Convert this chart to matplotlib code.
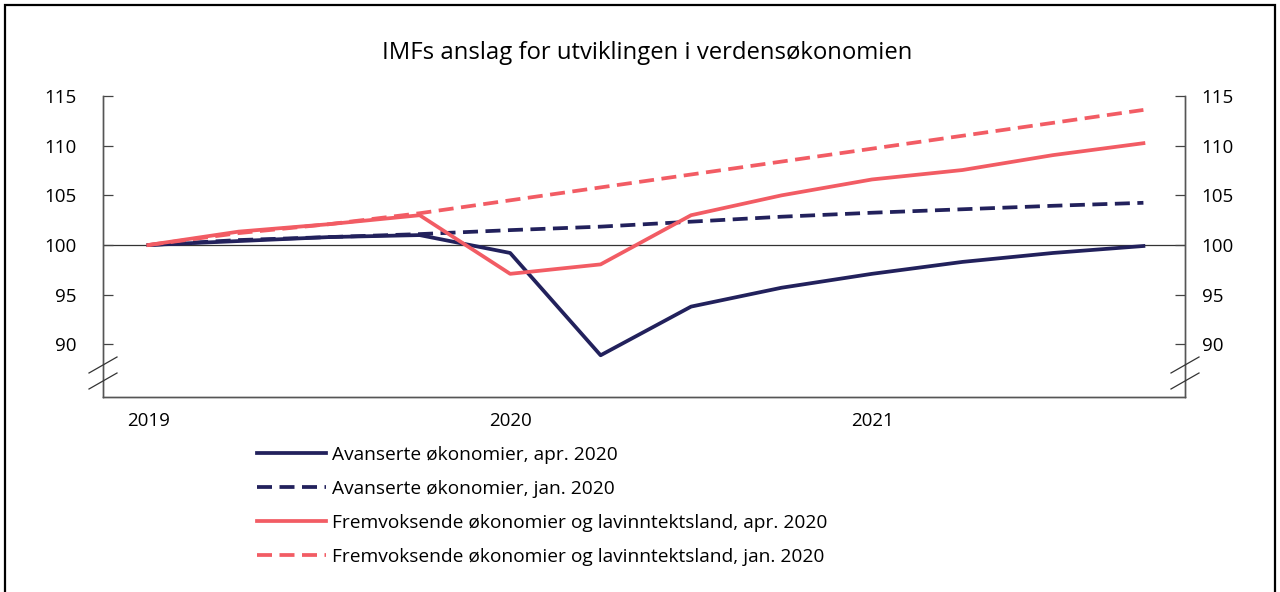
import matplotlib.pyplot as plt
from matplotlib.patches import Rectangle
from matplotlib.lines import Line2D

plt.rcParams['font.family'] = ['Open Sans', 'DejaVu Sans']

# quarters 2019K1 .. 2021K4
quarters = list(range(12))
year_ticks = [0, 4, 8]
year_labels = ['2019', '2020', '2021']

adv_apr = [100, 100.4, 100.8, 101.0, 99.2, 88.9, 93.8, 95.7, 97.1, 98.3, 99.2, 99.9]
adv_jan = [100, 100.5, 100.8, 101.1, 101.5, 101.85, 102.35, 102.85, 103.25, 103.6, 103.95, 104.25]
em_apr = [100, 101.35, 102.1, 103.0, 97.1, 98.05, 103.0, 105.0, 106.6, 107.55, 109.05, 110.25]
em_jan = [100, 101.2, 102.1, 103.2, 104.5, 105.8, 107.1, 108.4, 109.7, 111.0, 112.3, 113.6]

labels = ['Avanserte økonomier, apr. 2020',
          'Avanserte økonomier, jan. 2020',
          'Fremvoksende økonomier og lavinntektsland, apr. 2020',
          'Fremvoksende økonomier og lavinntektsland, jan. 2020']

navy = '#22215c'
red = '#f25c64'
dash = (0, (4, 2))

fig = plt.figure(figsize=(12.8, 5.92), dpi=100)
ax = fig.add_axes([0.0805, 0.3294, 0.8453, 0.5084])

ax.axhline(100, color='#333333', lw=0.9, zorder=1)
l1, = ax.plot(quarters, adv_apr, color=navy, lw=2.7, zorder=3)
l2, = ax.plot(quarters, adv_jan, color=navy, lw=2.7, ls=dash, zorder=3)
l3, = ax.plot(quarters, em_apr, color=red, lw=2.7, zorder=3)
l4, = ax.plot(quarters, em_jan, color=red, lw=2.7, ls=dash, zorder=3)

yt = [90, 95, 100, 105, 110, 115]
ax.set_xlim(-0.5, 11.46)
ax.set_ylim(84.7, 115)
ax.set_yticks(yt)
ax.set_xticks(year_ticks)
ax.set_xticklabels(year_labels)
ax.tick_params(axis='x', length=0, pad=11, labelsize=13.5)
ax.tick_params(axis='y', direction='in', length=7, width=0.9, color='#444444',
               labelsize=13.5, pad=19, left=True, right=False)

# right-hand axis (same scale)
ax2 = ax.twinx()
ax2.set_ylim(ax.get_ylim())
ax2.set_yticks(yt)
ax2.tick_params(axis='y', direction='in', length=7, width=0.9, color='#444444',
                labelsize=13.5, pad=12)

for a in (ax, ax2):
    a.spines['top'].set_visible(False)
    for s in ['left', 'right', 'bottom']:
        a.spines[s].set_color('#555555')
        a.spines[s].set_linewidth(1.0)

# axis break marks
for xa in [103, 1185]:
    for y0 in [373, 389]:
        x0 = xa - 14
        fig.add_artist(Line2D([x0 / 1280, (x0 + 28) / 1280],
                              [1 - y0 / 592, 1 - (y0 - 16) / 592],
                              color='#333333', lw=0.9))

fig.suptitle('IMFs anslag for utviklingen i verdensøkonomien', x=0.506, y=0.93, fontsize=17.2)

fig.legend([l1, l2, l3, l4], labels, loc='upper left',
           bbox_to_anchor=(0.195, 0.26), frameon=False, fontsize=13.8,
           handlelength=3.6, handletextpad=0.3, labelspacing=0.84,
           borderaxespad=0)

fig.add_artist(Rectangle((5 / 1280, -0.1), 1270 / 1280, 1 - 5 / 592 + 0.1,
                         transform=fig.transFigure, fill=False,
                         edgecolor='black', lw=1.6))

fig.savefig('out.png', dpi=100)
